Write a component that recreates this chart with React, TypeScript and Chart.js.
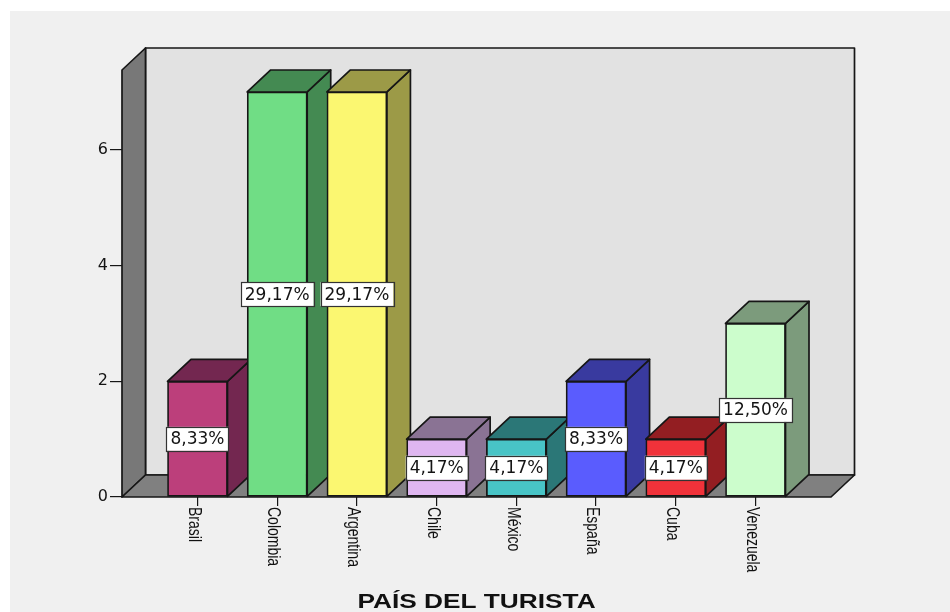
import React, { useEffect, useRef } from "react";
import { Chart, registerables } from "chart.js";

Chart.register(...registerables);

const categories = ["Brasil", "Colombia", "Argentina", "Chile", "México", "España", "Cuba", "Venezuela"];
const counts = [2, 7, 7, 1, 1, 2, 1, 3];
const yTickValues = [0, 2, 4, 6];
const frontColors = ["#bc3f7b", "#70dd85", "#fbf771", "#dfb6f0", "#48c4c6", "#5a5cfe", "#f0323a", "#ccfdcc"];
const sideColors = ["#732750", "#448a52", "#9c9a47", "#8a7394", "#2b7777", "#393a9f", "#931e22", "#7c9b7c"];
const axisTitle = "PAÍS DEL TURISTA";

const DX = 23.5;
const DY = 22;
const EDGE = "#161616";

const total = counts.reduce((a, b) => a + b, 0);
const pctLabel = (v: number) => ((v / total) * 100).toFixed(2).replace(".", ",") + "%";

const poly = (ctx: CanvasRenderingContext2D, pts: number[][], fill: string) => {
  ctx.beginPath();
  ctx.moveTo(pts[0][0], pts[0][1]);
  for (let i = 1; i < pts.length; i++) ctx.lineTo(pts[i][0], pts[i][1]);
  ctx.closePath();
  ctx.fillStyle = fill;
  ctx.fill();
  ctx.strokeStyle = EDGE;
  ctx.lineWidth = 1.7;
  ctx.lineJoin = "round";
  ctx.stroke();
};

const threeD = {
  id: "threeD",
  beforeDatasetsDraw(chart: any) {
    const ctx: CanvasRenderingContext2D = chart.ctx;
    const { left: L, right: R, top: T, bottom: B } = chart.chartArea;
    ctx.save();
    poly(ctx, [[L + DX, T - DY], [R + DX, T - DY], [R + DX, B - DY], [L + DX, B - DY]], "#e2e2e2");
    poly(ctx, [[L, T], [L + DX, T - DY], [L + DX, B - DY], [L, B]], "#787878");
    poly(ctx, [[L, B], [L + DX, B - DY], [R + DX, B - DY], [R, B]], "#808080");
    const meta = chart.getDatasetMeta(0);
    meta.data.forEach((bar: any, i: number) => {
      const p = bar.getProps(["x", "y", "base", "width"], true);
      const l = p.x - p.width / 2;
      const r = p.x + p.width / 2;
      poly(ctx, [[r, p.y], [r + DX, p.y - DY], [r + DX, p.base - DY], [r, p.base]], sideColors[i]);
      poly(ctx, [[l, p.y], [l + DX, p.y - DY], [r + DX, p.y - DY], [r, p.y]], sideColors[i]);
    });
    ctx.restore();
  },
  afterDatasetsDraw(chart: any) {
    const ctx: CanvasRenderingContext2D = chart.ctx;
    const meta = chart.getDatasetMeta(0);
    ctx.save();
    ctx.font = "17px 'DejaVu Sans'";
    ctx.textAlign = "center";
    ctx.textBaseline = "middle";
    meta.data.forEach((bar: any, i: number) => {
      const p = bar.getProps(["x", "y", "base"], true);
      const txt = pctLabel(counts[i]);
      const tw = ctx.measureText(txt).width;
      const cy = (p.y + p.base) / 2;
      const bw = tw + 8;
      const bh = 24;
      ctx.fillStyle = "#ffffff";
      ctx.fillRect(p.x - bw / 2, cy - bh / 2, bw, bh);
      ctx.strokeStyle = "#333333";
      ctx.lineWidth = 1.2;
      ctx.strokeRect(Math.round(p.x - bw / 2) + 0.5, Math.round(cy - bh / 2) + 0.5, Math.round(bw), bh);
      ctx.fillStyle = "#141414";
      ctx.fillText(txt, p.x, cy + 1);
    });
    ctx.restore();
  },
  afterDraw(chart: any) {
    const ctx: CanvasRenderingContext2D = chart.ctx;
    const xs = chart.scales.x;
    const { left: L, right: R, bottom: B } = chart.chartArea;
    ctx.save();
    ctx.fillStyle = "#111111";
    ctx.font = "14px 'Liberation Sans'";
    ctx.textAlign = "left";
    ctx.textBaseline = "middle";
    categories.forEach((c, i) => {
      const x = xs.getPixelForValue(i);
      ctx.save();
      ctx.translate(x - 4, B + 10);
      ctx.rotate(Math.PI / 2);
      ctx.scale(1, 1.25);
      ctx.fillText(c, 0, 0);
      ctx.restore();
    });
    ctx.font = "bold 21px 'Liberation Sans'";
    ctx.textAlign = "center";
    ctx.textBaseline = "alphabetic";
    ctx.translate((L + R) / 2, 597);
    ctx.scale(1.25, 1);
    ctx.fillText(axisTitle, 0, 0);
    ctx.restore();
  },
};

export default function App() {
  const ref = useRef<HTMLCanvasElement>(null);
  useEffect(() => {
    if (!ref.current) return;
    const chart = new Chart(ref.current, {
      type: "bar",
      data: {
        datasets: [
          {
            data: counts.map((v, i) => ({ x: i, y: v })),
            backgroundColor: frontColors,
            borderColor: EDGE,
            borderWidth: 1.7,
            borderSkipped: false,
            barThickness: 60,
          },
        ],
      },
      options: {
        responsive: false,
        animation: false,
        events: [],
        layout: { padding: { left: 52, right: 119, top: 59, bottom: 95 } },
        plugins: { legend: { display: false }, tooltip: { enabled: false }, title: { display: false } },
        scales: {
          x: {
            type: "linear",
            offset: false,
            min: -0.947,
            max: 7.947,
            afterBuildTicks: (s: any) => {
              s.ticks = categories.map((_, i) => ({ value: i }));
            },
            afterFit: (s: any) => {
              s.height = 20;
            },
            ticks: { display: false },
            grid: { offset: false, drawOnChartArea: false, drawTicks: true, tickLength: 9, color: EDGE, lineWidth: 1.2 },
            border: { display: false },
          },
          y: {
            type: "linear",
            min: 0,
            max: 7.38,
            afterBuildTicks: (s: any) => {
              s.ticks = yTickValues.map((v) => ({ value: v }));
            },
            afterFit: (s: any) => {
              s.width = 60;
            },
            ticks: { font: { family: "'DejaVu Sans'", size: 16 }, color: "#141414", padding: 2 },
            grid: { drawOnChartArea: false, drawTicks: true, tickLength: 12, color: EDGE, lineWidth: 1.2 },
            border: { display: false },
          },
        },
      },
      plugins: [threeD],
    } as any);
    return () => chart.destroy();
  }, []);
  return (
    <div style={{ position: "fixed", left: 0, top: 0, width: 950, height: 612, background: "#ffffff" }}>
      <div style={{ position: "absolute", left: 10, top: 11, width: 940, height: 601, background: "#f0f0f0" }}>
        <canvas ref={ref} width={940} height={601} style={{ display: "block" }} />
      </div>
    </div>
  );
}
